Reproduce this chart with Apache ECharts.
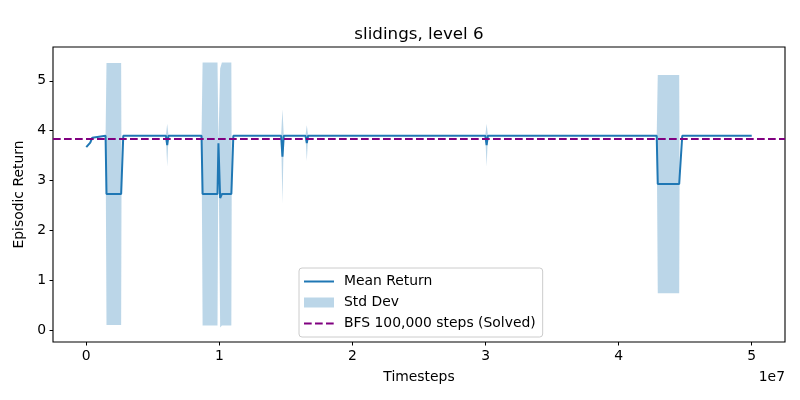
<!DOCTYPE html>
<html style="height: 100%">
<head>
    <meta charset="utf-8">
</head>
<body style="height: 100%; margin: 0; background: #fff">
<div id="container" style="width: 800px; height: 400px"></div>
<script type="text/javascript" src="https://cdn.jsdelivr.net/npm/echarts@6/dist/echarts.min.js"></script>
<script type="text/javascript">
    // timesteps in millions
    var stepsM = [0, 0.15, 0.3, 0.45, 0.6, 1.45, 1.52, 2.62, 2.65, 2.78, 5.98, 6.08, 6.18,
        8.66, 8.74, 9.86, 9.93, 10.06, 10.19, 10.9, 10.93, 11.05, 14.64, 14.74, 14.84,
        16.47, 16.57, 16.67, 29.98, 30.08, 30.18, 42.86, 42.94, 44.55, 44.58, 44.78, 50.0];
    var meanReturn = [3.67, 3.68, 3.76, 3.86, 3.9, 3.9, 2.73, 2.73, 2.95, 3.9, 3.9, 3.71, 3.9,
        3.9, 2.73, 2.73, 3.75, 2.65, 2.73, 2.73, 2.95, 3.9, 3.9, 3.48, 3.9,
        3.9, 3.75, 3.9, 3.9, 3.71, 3.9, 3.9, 2.93, 2.93, 3.06, 3.9, 3.9];
    var stdDev = [0, 0, 0, 0, 0, 0, 2.63, 2.63, 0, 0, 0, 0.43, 0,
        0, 2.64, 2.64, 0, 2.6, 2.64, 2.64, 0, 0, 0, 0.95, 0,
        0, 0.36, 0, 0, 0.43, 0, 0, 2.19, 2.19, 0, 0, 0];
    var bfsReturn = 3.84;
    var xTicks = [0, 1e7, 2e7, 3e7, 4e7, 5e7];
    var yTicks = [0, 1, 2, 3, 4, 5];

    var meanData = [], bandData = [];
    for (var i = 0; i < stepsM.length; i++) {
        var t = stepsM[i] * 1e6;
        meanData.push([t, meanReturn[i]]);
        bandData.push([t, meanReturn[i] - stdDev[i], meanReturn[i] + stdDev[i]]);
    }

    // whole std band drawn once as one polygon
    function renderBand(params, api) {
        if (params.dataIndex !== 0) return;
        var upper = [], lower = [];
        for (var k = 0; k < bandData.length; k++) {
            upper.push(api.coord([bandData[k][0], bandData[k][2]]));
            lower.unshift(api.coord([bandData[k][0], bandData[k][1]]));
        }
        return {
            type: 'polygon',
            shape: {points: upper.concat(lower)},
            style: {fill: 'rgba(31,119,180,0.3)', stroke: 'none'}
        };
    }

    var font = 'DejaVu Sans';
    var myChart = echarts.init(document.getElementById('container'));
    var option = {
        animation: false,
        backgroundColor: '#fff',
        grid: {
            left: 53, right: 15, top: 47, bottom: 58,
            show: true, borderColor: '#000', borderWidth: 1.1, backgroundColor: 'transparent'
        },
        graphic: [
            {type: 'text', x: 419, y: 35, style: {text: 'slidings, level 6', fontFamily: font, fontSize: 16.7, fill: '#000', textAlign: 'center', textVerticalAlign: 'middle'}},
            {type: 'text', x: 785, y: 377, style: {text: '1e7', fontFamily: font, fontSize: 13.9, fill: '#000', textAlign: 'right', textVerticalAlign: 'middle'}}
        ],
        legend: {
            orient: 'vertical',
            left: 299, top: 268,
            padding: [6, 7, 6, 4],
            itemWidth: 30, itemHeight: 10, itemGap: 6,
            backgroundColor: 'rgba(255,255,255,0.8)',
            borderColor: '#cccccc', borderWidth: 1, borderRadius: 3,
            textStyle: {fontFamily: font, fontSize: 13.9, color: '#000', padding: [0, 0, 0, 5], lineHeight: 15},
            data: [
                {name: 'Mean Return', itemStyle: {opacity: 0}},
                {name: 'Std Dev', icon: 'rect', itemStyle: {color: 'rgba(31,119,180,0.3)'}},
                {name: 'BFS 100,000 steps (Solved)', itemStyle: {opacity: 0}}
            ]
        },
        xAxis: {
            type: 'value', min: -2.5e6, max: 5.25e7,
            name: 'Timesteps', nameLocation: 'middle', nameGap: 28,
            nameTextStyle: {fontFamily: font, fontSize: 13.9, color: '#000'},
            axisLine: {show: false, onZero: false},
            axisTick: {show: true, length: 3.5, customValues: xTicks, lineStyle: {color: '#000'}},
            axisLabel: {customValues: xTicks, margin: 7, fontFamily: font, fontSize: 13.9, color: '#000',
                formatter: function (v) { return String(Math.round(v / 1e7)); }},
            splitLine: {show: false}
        },
        yAxis: {
            type: 'value', min: -0.24, max: 5.68,
            name: 'Episodic Return', nameLocation: 'middle', nameGap: 20,
            nameTextStyle: {fontFamily: font, fontSize: 13.9, color: '#000'},
            axisLine: {show: false, onZero: false},
            axisTick: {show: true, length: 3.5, customValues: yTicks, lineStyle: {color: '#000'}},
            axisLabel: {customValues: yTicks, margin: 7, fontFamily: font, fontSize: 13.9, color: '#000'},
            splitLine: {show: false}
        },
        series: [
            {
                name: 'Std Dev', type: 'custom', data: bandData, renderItem: renderBand,
                color: 'rgba(31,119,180,0.3)', silent: true, z: 1,
                encode: {x: 0, y: [1, 2]}
            },
            {
                name: 'Mean Return', type: 'line', data: meanData, symbol: 'none',
                color: '#1f77b4', lineStyle: {color: '#1f77b4', width: 2}, z: 3
            },
            {
                name: 'BFS 100,000 steps (Solved)', type: 'line', data: [], symbol: 'none',
                color: '#800080', lineStyle: {color: '#800080', width: 2, type: [7.7, 3.3]}, z: 2,
                markLine: {
                    silent: true, symbol: ['none', 'none'], label: {show: false},
                    lineStyle: {color: '#800080', width: 2, type: [7.7, 3.3]},
                    data: [{yAxis: bfsReturn}]
                }
            }
        ]
    };
    myChart.setOption(option, true);
</script>
</body>
</html>
